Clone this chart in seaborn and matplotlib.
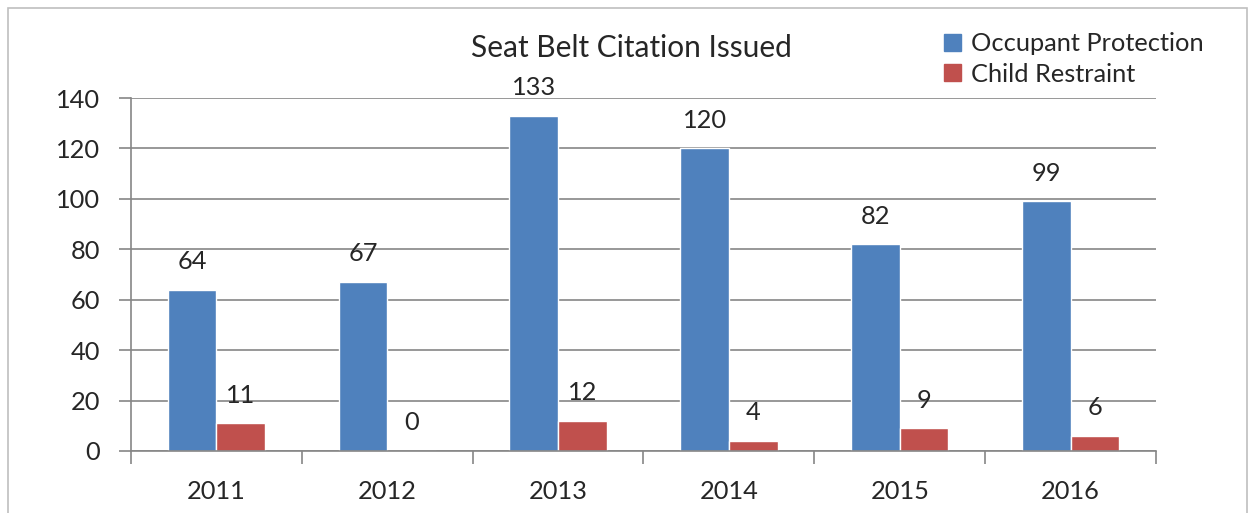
import numpy as np
import pandas as pd
import matplotlib
matplotlib.use("Agg")
import matplotlib.pyplot as plt
import seaborn as sns
from matplotlib.patches import Rectangle

years = ["2011", "2012", "2013", "2014", "2015", "2016"]
occupant = [64, 67, 133, 120, 82, 99]
child = [11, 0, 12, 4, 9, 6]
series = ["Occupant Protection", "Child Restraint"]
colors = ["#4F81BD", "#C0504D"]

df = pd.DataFrame({
    "year": years * 2,
    "value": occupant + child,
    "series": [series[0]] * len(years) + [series[1]] * len(years),
})

sns.set_style("white")
plt.rcParams["font.family"] = ["Lato", "DejaVu Sans"]
fs = 18.3

fig = plt.figure(figsize=(12.52, 5.13), dpi=100)
ax = fig.add_axes([131 / 1252, 1 - 451 / 513, (1156 - 131) / 1252, (451 - 98) / 513])

sns.barplot(data=df, x="year", y="value", hue="series", palette=colors,
            width=0.57, saturation=1, ax=ax, legend=False)

# data labels
for cont in ax.containers:
    for bar in cont:
        h = bar.get_height()
        ax.annotate(f"{int(h)}", (bar.get_x() + bar.get_width() / 2, h),
                    xytext=(0, 12), textcoords="offset points",
                    ha="center", va="bottom", fontsize=fs)

ax.set_ylim(0, 140)
ax.set_xlim(-0.5, 5.5)
ax.set_yticks(range(0, 141, 20))
ax.yaxis.grid(True, color="#868686", lw=1.2)
ax.set_axisbelow(True)
ax.set_xlabel("")
ax.set_ylabel("")
for s in ["top", "right"]:
    ax.spines[s].set_visible(False)
for s in ["left", "bottom"]:
    ax.spines[s].set_color("#868686")
    ax.spines[s].set_linewidth(1.2)
ax.set_xticks(np.arange(-0.5, 6, 1), minor=False)
ax.set_xticklabels([""] * 7)
ax.set_xticks(range(6), minor=True)
ax.set_xticklabels(years, minor=True)
ax.tick_params(axis="x", which="major", length=9, width=1.2, color="#868686", direction="out")
ax.tick_params(axis="x", which="minor", length=0, pad=21, labelsize=fs)
ax.tick_params(axis="y", length=9, width=1.2, color="#868686", direction="out", pad=13, labelsize=fs)
ax.tick_params(left=True, bottom=True)

fig.text(631 / 1252, 1 - 48 / 513, "Seat Belt Citation Issued", ha="center", va="center", fontsize=21.5)

handles = [Rectangle((0, 0), 1, 1, color=c) for c in colors]
fig.legend(handles, series, loc="upper left", bbox_to_anchor=(934 / 1252, 1 - 22 / 513),
           frameon=False, fontsize=fs, handlelength=0.65, handleheight=0.65,
           handletextpad=0.4, labelspacing=0.3, borderaxespad=0)

fig.patches.append(Rectangle((8 / 1252, -0.02), (1247 - 8) / 1252, 1 - 8 / 513 + 0.02,
                             transform=fig.transFigure, fill=False, ec="#BFBFBF", lw=1.2))

fig.savefig("out.png", dpi=100)
